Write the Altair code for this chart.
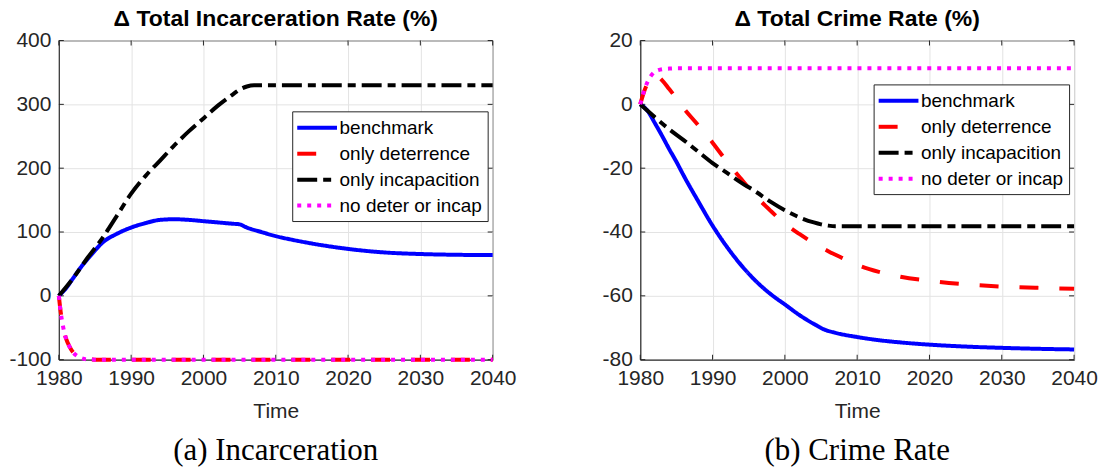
import altair as alt
import pandas as pd

SERIES = ["benchmark", "only deterrence", "only incapacition", "no deter or incap"]
COLORS = ["#0000ff", "#ff0000", "#000000", "#ff00ff"]
DASHES = [[1, 0], [19, 21], [20, 6, 8, 6], [4, 6]]
YEAR_TICKS = [1980, 1990, 2000, 2010, 2020, 2030, 2040]

# --- Total incarceration rate, % change ---
inc_bench_year = [1980, 1981, 1982, 1983, 1984, 1985, 1986, 1988, 1990, 1992, 1994, 1996,
                  1998, 2000, 2002, 2004, 2005, 2006, 2008, 2010, 2012, 2015, 2020, 2025,
                  2030, 2035, 2040]
inc_bench = [0, 12, 28, 44, 58, 71, 83, 97, 107, 114, 119, 120, 119, 117, 115, 113, 112,
             107, 100, 93.5, 88.5, 82, 73.5, 68, 65.5, 64.3, 63.8]

inc_incap_year = [1980, 1982, 1984, 1986, 1988, 1990, 1992, 1994, 1996, 1998, 2000, 2002,
                  2004, 2005, 2006, 2007, 2010, 2020, 2030, 2040]
inc_incap = [0, 28, 60, 90, 125, 160, 188, 212, 236, 258, 278, 298, 315, 323, 328, 330,
             330, 330, 330, 330]

inc_deter_year = [1980, 1980.25, 1980.5, 1980.75, 1981, 1981.5, 1982, 1982.5, 1983, 1983.5,
                  1984, 1985, 2040]
inc_deter = [0, -25, -43, -57, -67, -80, -89, -94, -97, -98.8, -99.5, -100, -100]

inc_none_year = [1980, 1980.25, 1980.5, 1980.75, 1981, 1981.5, 1982, 1982.5, 1983, 1983.5,
                 1984, 1985, 2040]
inc_none = [0, -25, -43, -57, -67, -80, -89, -94, -97, -98.8, -99.5, -100, -100]

# --- Total crime rate, % change ---
crm_bench_year = [1980, 1981, 1982, 1983, 1984, 1985, 1986, 1988, 1990, 1992, 1994, 1996,
                  1998, 2000, 2002, 2004, 2005.5, 2007, 2010, 2013, 2016, 2020, 2025, 2030,
                  2035, 2040]
crm_bench = [0, -2, -5.8, -9.8, -14, -18, -22.3, -30.3, -38, -44.7, -50.5, -55.4, -59.4,
             -62.7, -66, -68.8, -70.6, -71.6, -72.9, -73.9, -74.6, -75.3, -75.9, -76.3,
             -76.6, -76.8]

crm_deter_year = [1980, 1980.5, 1981, 1981.5, 1982, 1982.5, 1983, 1984, 1985, 1986, 1988,
                  1990, 1992, 1994, 1996, 1998, 2000, 2002, 2004, 2006, 2008, 2010, 2013,
                  2016, 2020, 2025, 2030, 2035, 2040]
crm_deter = [0, 3.8, 6.5, 8.2, 8.9, 8.6, 7.6, 4.8, 1.9, -1.2, -6.5, -12, -18, -23.5, -28.8,
             -33.3, -37.4, -40.6, -43.5, -46, -48.2, -50.3, -52.5, -54, -55.3, -56.4, -57.1,
             -57.5, -57.8]

crm_incap_year = [1980, 1982, 1984, 1986, 1988, 1990, 1992, 1994, 1996, 1998, 2000, 2002,
                  2004, 2005, 2006, 2007, 2040]
crm_incap = [0, -4, -7.8, -11.2, -14.8, -18.4, -21.5, -24.6, -27.4, -30.5, -33.2, -35.4,
             -37, -37.6, -38, -38.2, -38.2]

crm_none_year = [1980, 1980.5, 1981, 1981.5, 1982, 1982.5, 1983, 1984, 1985, 2040]
crm_none = [0, 4, 7, 9, 10.2, 10.7, 11, 11.2, 11.3, 11.3]

W, H = 435, 320
FONT = "Liberation Sans"
FRAME = "#262626"
TICK_LEN = 5
HYPHEN_LABELS = "replace(datum.label, '\u2212', '-')"


def long_table(pairs):
    rows = []
    for name, (years, values) in zip(SERIES, pairs):
        for i, (t, v) in enumerate(zip(years, values)):
            rows.append({"series": name, "year": t, "value": v, "i": i})
    return pd.DataFrame(rows)


def panel(df, title, caption, ydomain, yticks, legend_y):
    x = alt.X("year:Q",
              scale=alt.Scale(domain=[1980, 2040], nice=False, zero=False),
              axis=alt.Axis(values=YEAR_TICKS, format="d", title="Time"))
    y = alt.Y("value:Q",
              scale=alt.Scale(domain=ydomain, nice=False, zero=False),
              axis=alt.Axis(values=yticks, title=None, labelExpr=HYPHEN_LABELS))
    legend = alt.Legend(
        title=None, orient="none", legendX=W - 201, legendY=legend_y,
        symbolType="M-2.1,0H2.1", symbolSize=361, symbolStrokeWidth=4,
        symbolOffset=8.5, labelOffset=11, labelFont=FONT, labelFontSize=19,
        labelColor="black", labelLimit=400, padding=5, rowPadding=4,
        strokeColor=FRAME, fillColor="white", cornerRadius=0,
    )
    color = alt.Color("series:N", scale=alt.Scale(domain=SERIES, range=COLORS), legend=legend)
    dash = alt.StrokeDash("series:N", scale=alt.Scale(domain=SERIES, range=DASHES), legend=legend)

    # inward tick marks on all four sides of the box
    xt = pd.DataFrame({"year": YEAR_TICKS})
    yt = pd.DataFrame({"value": yticks})
    tick = dict(color=FRAME, thickness=1, size=TICK_LEN, opacity=1)
    ticks = [
        alt.Chart(xt).mark_tick(**tick).encode(x=x, y=alt.value(H - TICK_LEN / 2)),
        alt.Chart(xt).mark_tick(**tick).encode(x=x, y=alt.value(TICK_LEN / 2)),
        alt.Chart(yt).mark_tick(**tick).encode(y=y, x=alt.value(TICK_LEN / 2)),
        alt.Chart(yt).mark_tick(**tick).encode(y=y, x=alt.value(W - TICK_LEN / 2)),
    ]

    layers = []
    for s in SERIES:
        layers.append(
            alt.Chart(df)
            .transform_filter(alt.datum.series == s)
            .mark_line(strokeWidth=4, interpolate="monotone", clip=False)
            .encode(x=x, y=y, color=color, strokeDash=dash, order="i:Q")
        )
    cap = (
        alt.Chart(pd.DataFrame({"caption": [caption]}))
        .mark_text(font="Liberation Serif", fontSize=31, color="black", baseline="alphabetic")
        .encode(x=alt.value(W / 2), y=alt.value(H + 101), text="caption:N")
    )
    return alt.layer(*ticks, *layers, cap).properties(
        width=W, height=H,
        title=alt.TitleParams(title, font=FONT, fontSize=23, fontWeight="bold",
                              color="black", anchor="middle", offset=-1),
    )


left = panel(
    long_table([(inc_bench_year, inc_bench), (inc_deter_year, inc_deter),
                (inc_incap_year, inc_incap), (inc_none_year, inc_none)]),
    "Δ Total Incarceration Rate (%)", "(a) Incarceration",
    [-100, 400], [-100, 0, 100, 200, 300, 400], 71,
)
right = panel(
    long_table([(crm_bench_year, crm_bench), (crm_deter_year, crm_deter),
                (crm_incap_year, crm_incap), (crm_none_year, crm_none)]),
    "Δ Total Crime Rate (%)", "(b) Crime Rate",
    [-80, 20], [-80, -60, -40, -20, 0, 20], 44,
)

chart = (
    alt.hconcat(left, right, spacing=148, bounds="flush")
    .resolve_scale(color="independent", strokeDash="independent")
    .properties(padding={"left": 8, "top": 6, "right": 4, "bottom": 0})
    .configure_view(stroke=FRAME, strokeWidth=1)
    .configure_axis(
        labelFont=FONT, labelFontSize=21, labelColor=FRAME,
        labelFlush=False, labelOverlap=False,
        titleFont=FONT, titleFontSize=21, titleColor=FRAME, titleFontWeight="normal",
        grid=True, gridColor="#e3e3e3", gridWidth=1,
        domainColor=FRAME, domainWidth=1,
        ticks=False, tickSize=0, labelPadding=8, titlePadding=12,
    )
)

chart.save("out.html", embed_options={"renderer": "svg", "actions": False})
